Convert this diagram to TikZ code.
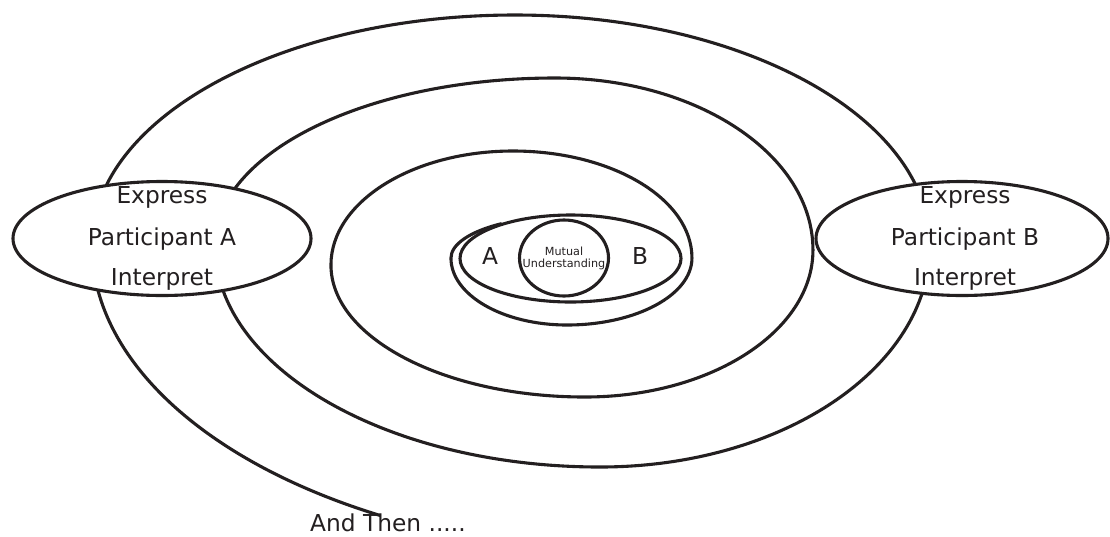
\documentclass[tikz,border=0pt]{standalone}
\usepackage{fontspec}
\setmainfont{DejaVu Sans}
\usetikzlibrary{shapes.geometric}
\definecolor{ink}{HTML}{231F20}
\begin{document}
\begin{tikzpicture}[x=1pt,y=1pt,
  ln/.style={line width=3.1pt, draw=ink},
  part/.style={ln, ellipse, fill=white, inner sep=0pt},
  big/.style={font=\fontsize{23.3}{28}\selectfont, text=ink, inner sep=0pt},
  small/.style={font=\fontsize{11.2}{13}\selectfont, text=ink, inner sep=0pt}]
\useasboundingbox (0,0) rectangle (1110,-536);
% spiral
\coordinate (s) at (501.7,-223.6);
\draw[ln] (s)
  arc[start angle=125,end angle=180,x radius=119,y radius=42]
  arc[start angle=180,end angle=270,x radius=116,y radius=67]
  arc[start angle=270,end angle=360,x radius=125,y radius=67]
  arc[start angle=0,end angle=90,x radius=179,y radius=107]
  arc[start angle=90,end angle=180,x radius=182,y radius=114]
  arc[start angle=180,end angle=270,x radius=254,y radius=132]
  arc[start angle=270,end angle=360,x radius=228,y radius=147]
  arc[start angle=0,end angle=90,x radius=258,y radius=172]
  arc[start angle=90,end angle=180,x radius=340,y radius=167]
  arc[start angle=180,end angle=270,x radius=385,y radius=222]
  arc[start angle=270,end angle=360,x radius=330,y radius=222]
  arc[start angle=0,end angle=90,x radius=415,y radius=230]
  arc[start angle=90,end angle=180,x radius=423,y radius=230]
  arc[start angle=180,end angle=241.1,x radius=558,y radius=309] coordinate (e);
% centre
\node[ln, ellipse, minimum width=221pt, minimum height=87pt, inner sep=0pt] (ab) at (570.5,-258.5) {};
\node[ln, ellipse, minimum width=89pt, minimum height=76pt, inner sep=0pt] (mu) at (564,-258) {};
\node[big, anchor=base] (ta) at (490,-264) {A};
\node[big, anchor=base] (tb) at (640,-264) {B};
\node[small, anchor=base] (m1) at (564,-255) {Mutual};
\node[small, anchor=base] (m2) at (564,-267) {Understanding};
% participants
\node[part, minimum width=298pt, minimum height=114pt] (pa) at (162,-238.5) {};
\node[part, minimum width=292pt, minimum height=114pt] (pb) at (962,-238.5) {};
\node[big, anchor=base] (pa1) at (162,-203) {Express};
\node[big, anchor=base] (pa2) at (162,-245) {Participant A};
\node[big, anchor=base] (pa3) at (162,-285) {Interpret};
\node[big, anchor=base] (pb1) at (965,-203) {Express};
\node[big, anchor=base] (pb2) at (965,-245) {Participant B};
\node[big, anchor=base] (pb3) at (965,-285) {Interpret};
\node[big, anchor=base west] (then) at (310,-531) {And Then .....};
\end{tikzpicture}
\end{document}
